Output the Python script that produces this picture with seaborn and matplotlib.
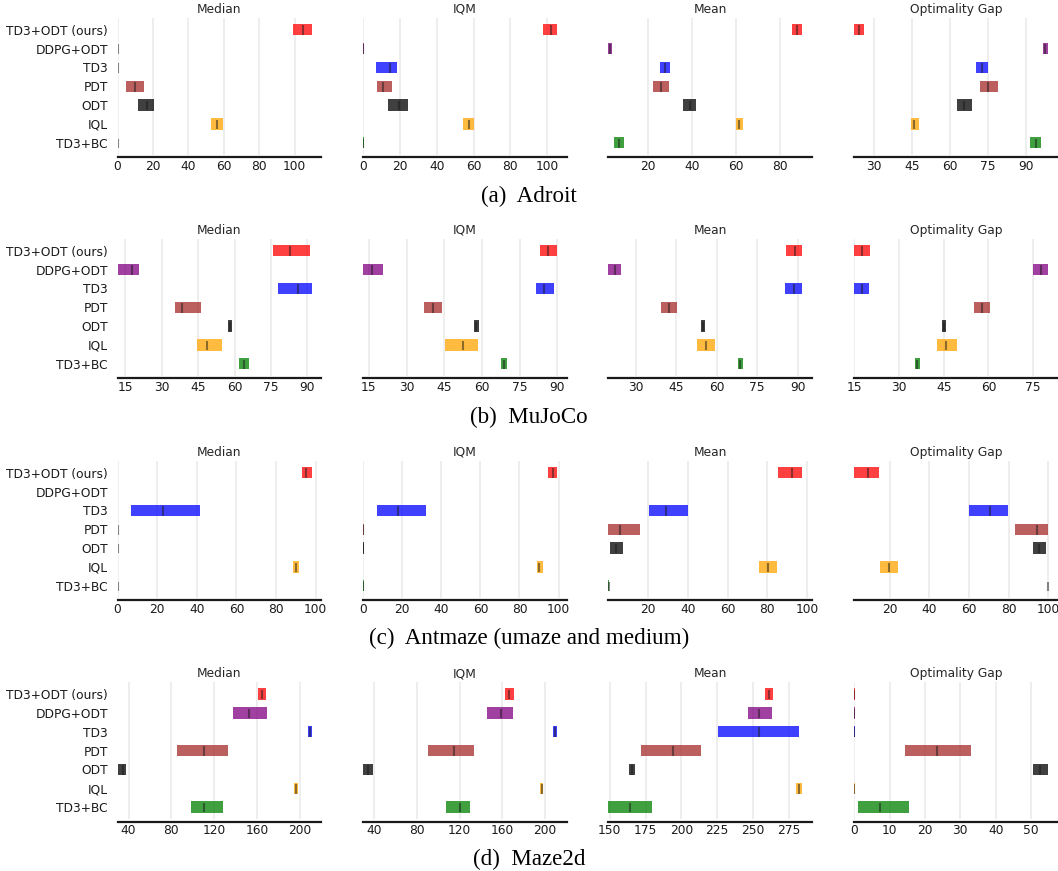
import numpy as np
import matplotlib
matplotlib.use("Agg")
import matplotlib.pyplot as plt
from matplotlib.ticker import FixedLocator
import seaborn as sns

# ---------------- data ----------------
algorithms = ["TD3+ODT (ours)", "DDPG+ODT", "TD3", "PDT", "ODT", "IQL", "TD3+BC"]
alg_colors = ["red", "purple", "blue", "brown", "black", "orange", "green"]
metrics = ["Median", "IQM", "Mean", "Optimality Gap"]
captions = ["(a)  Adroit", "(b)  MuJoCo", "(c)  Antmaze (umaze and medium)", "(d)  Maze2d"]
nan = np.nan

# Adroit
adroit_median_lo = [99.1, 0.0, 0.0, 4.7, 11.4, 53.0, 0.0]
adroit_median_pt = [104.8, 0.0, 0.0, 9.9, 16.7, 56.4, 0.0]
adroit_median_hi = [109.6, 0.4, 0.4, 14.8, 20.5, 59.3, 0.4]
adroit_iqm_lo = [98.0, 0.0, 6.8, 7.3, 13.3, 54.4, 0.0]
adroit_iqm_pt = [102.4, 0.0, 14.6, 10.9, 19.2, 57.5, 0.0]
adroit_iqm_hi = [105.5, 0.4, 18.2, 15.5, 24.6, 60.2, 0.4]
adroit_mean_lo = [85.4, 1.8, 25.4, 22.1, 35.8, 59.8, 4.4]
adroit_mean_pt = [87.9, 2.7, 27.5, 25.7, 38.8, 61.5, 6.8]
adroit_mean_hi = [90.3, 3.5, 30.0, 29.5, 41.7, 63.1, 9.0]
adroit_og_lo = [22.4, 96.6, 70.3, 71.6, 62.9, 44.5, 91.6]
adroit_og_pt = [24.1, 97.5, 72.6, 75.1, 65.5, 45.9, 93.8]
adroit_og_hi = [26.3, 98.6, 75.1, 78.7, 68.6, 47.8, 95.8]

# MuJoCo
mujoco_median_lo = [75.7, 11.8, 77.8, 35.4, 57.3, 44.4, 61.9]
mujoco_median_pt = [83.0, 17.6, 86.0, 38.2, 58.2, 48.7, 64.0]
mujoco_median_hi = [91.1, 20.7, 91.7, 46.0, 59.0, 55.0, 66.0]
mujoco_iqm_lo = [83.2, 12.7, 81.6, 37.1, 56.7, 45.4, 67.8]
mujoco_iqm_pt = [86.3, 16.4, 84.9, 40.5, 57.8, 52.3, 68.7]
mujoco_iqm_hi = [90.0, 20.4, 88.8, 44.1, 58.9, 58.4, 69.8]
mujoco_mean_lo = [85.8, 19.9, 85.4, 39.4, 54.0, 52.8, 67.8]
mujoco_mean_pt = [88.8, 22.3, 88.5, 42.5, 54.9, 56.1, 68.7]
mujoco_mean_hi = [91.7, 24.6, 91.4, 45.3, 55.7, 59.4, 69.6]
mujoco_og_lo = [15.0, 75.1, 15.0, 55.1, 44.3, 42.8, 35.3]
mujoco_og_pt = [17.6, 77.6, 17.6, 57.8, 45.1, 45.9, 36.1]
mujoco_og_hi = [20.4, 80.1, 20.1, 60.7, 45.9, 49.3, 37.0]

# Antmaze
antmaze_median_lo = [93.2, nan, 7.0, 0.0, 0.0, 88.4, 0.0]
antmaze_median_pt = [95.1, nan, 23.0, 0.0, 0.0, 90.0, 0.0]
antmaze_median_hi = [98.0, nan, 41.7, 0.4, 0.4, 91.5, 0.4]
antmaze_iqm_lo = [94.7, nan, 6.9, 0.0, 0.0, 88.9, 0.0]
antmaze_iqm_pt = [97.1, nan, 17.9, 0.0, 0.0, 89.8, 0.0]
antmaze_iqm_hi = [99.3, nan, 32.4, 0.4, 0.4, 92.0, 0.4]
antmaze_mean_lo = [85.3, nan, 20.3, 0.0, 0.8, 75.6, 0.0]
antmaze_mean_pt = [92.5, nan, 29.1, 5.8, 3.9, 80.3, 0.1]
antmaze_mean_hi = [97.6, nan, 39.9, 15.9, 7.3, 84.8, 0.4]
antmaze_og_lo = [2.1, nan, 60.0, 83.4, 92.2, 15.1, 99.6]
antmaze_og_pt = [9.0, nan, 70.5, 94.1, 95.3, 19.5, 99.9]
antmaze_og_hi = [14.6, nan, 79.8, 100.0, 98.6, 24.2, 100.0]

# Maze2d
maze2d_median_lo = [161.0, 137.8, 207.4, 85.1, 29.7, 194.5, 98.0]
maze2d_median_pt = [164.5, 153.0, 209.3, 110.3, 34.4, 196.1, 110.3]
maze2d_median_hi = [168.5, 169.5, 211.1, 132.5, 37.8, 198.3, 127.8]
maze2d_iqm_lo = [162.1, 145.9, 207.5, 90.2, 30.0, 194.7, 107.6]
maze2d_iqm_pt = [166.5, 158.7, 209.3, 114.8, 34.7, 196.6, 120.4]
maze2d_iqm_hi = [170.5, 169.6, 211.2, 133.5, 38.8, 198.4, 129.7]
maze2d_mean_lo = [257.9, 246.3, 225.2, 172.0, 163.6, 280.1, 149.1]
maze2d_mean_pt = [260.7, 254.4, 254.0, 194.2, 165.7, 282.2, 164.5]
maze2d_mean_hi = [263.6, 263.1, 282.2, 213.6, 167.8, 284.3, 179.4]
maze2d_og_lo = [0.0, 0.0, 0.0, 14.4, 50.7, 0.0, 1.1]
maze2d_og_pt = [0.0, 0.0, 0.0, 23.4, 52.6, 0.0, 7.4]
maze2d_og_hi = [0.3, 0.3, 0.3, 33.0, 54.9, 0.3, 15.5]

# tick labels
adroit_ticks = [[0, 20, 40, 60, 80, 100], [0, 20, 40, 60, 80, 100], [20, 40, 60, 80], [30, 45, 60, 75, 90]]
mujoco_ticks = [[15, 30, 45, 60, 75, 90], [15, 30, 45, 60, 75, 90], [30, 45, 60, 75, 90], [15, 30, 45, 60, 75]]
antmaze_ticks = [[0, 20, 40, 60, 80, 100], [0, 20, 40, 60, 80, 100], [20, 40, 60, 80, 100], [20, 40, 60, 80, 100]]
maze2d_ticks = [[40, 80, 120, 160, 200], [40, 80, 120, 160, 200], [150, 175, 200, 225, 250, 275], [0, 10, 20, 30, 40, 50]]

panels = [
    [(adroit_median_lo, adroit_median_pt, adroit_median_hi),
     (adroit_iqm_lo, adroit_iqm_pt, adroit_iqm_hi),
     (adroit_mean_lo, adroit_mean_pt, adroit_mean_hi),
     (adroit_og_lo, adroit_og_pt, adroit_og_hi)],
    [(mujoco_median_lo, mujoco_median_pt, mujoco_median_hi),
     (mujoco_iqm_lo, mujoco_iqm_pt, mujoco_iqm_hi),
     (mujoco_mean_lo, mujoco_mean_pt, mujoco_mean_hi),
     (mujoco_og_lo, mujoco_og_pt, mujoco_og_hi)],
    [(antmaze_median_lo, antmaze_median_pt, antmaze_median_hi),
     (antmaze_iqm_lo, antmaze_iqm_pt, antmaze_iqm_hi),
     (antmaze_mean_lo, antmaze_mean_pt, antmaze_mean_hi),
     (antmaze_og_lo, antmaze_og_pt, antmaze_og_hi)],
    [(maze2d_median_lo, maze2d_median_pt, maze2d_median_hi),
     (maze2d_iqm_lo, maze2d_iqm_pt, maze2d_iqm_hi),
     (maze2d_mean_lo, maze2d_mean_pt, maze2d_mean_hi),
     (maze2d_og_lo, maze2d_og_pt, maze2d_og_hi)],
]
row_ticks = [adroit_ticks, mujoco_ticks, antmaze_ticks, maze2d_ticks]

# ---------------- style ----------------
sns.set_theme(style="white")
plt.rcParams["font.family"] = ["DejaVu Sans"]

W, H = 1058, 871
DPI = 100
fig = plt.figure(figsize=(W / DPI, H / DPI), dpi=DPI)

col_left = [117.6, 363.2, 608.4, 854.3]
ax_w = 203.7
row_top_bar = [29.7, 250.7, 472.7, 694.0]
unit = 18.85
ylo, yhi = -0.63, 6.63
h = 0.6
fs = 8.8

n = len(algorithms)
for r in range(4):
    top_px = row_top_bar[r] - (yhi - (n - 1)) * unit
    height_px = (yhi - ylo) * unit
    for c in range(4):
        ax = fig.add_axes([col_left[c] / W, 1 - (top_px + height_px) / H,
                           ax_w / W, height_px / H])
        lo, pt, hi = panels[r][c]
        for i, alg in enumerate(algorithms):
            if np.isnan(lo[i]):
                continue
            y = n - 1 - i
            ax.barh(y=y, width=hi[i] - lo[i], height=h, left=lo[i],
                    color=alg_colors[i], alpha=0.75, linewidth=0)
            ax.vlines(x=pt[i], ymin=y - 7.5 * h / 16, ymax=y + 6 * h / 16,
                      color="k", alpha=0.5, linewidth=1.5)
        ax.set_ylim(ylo, yhi)
        ax.xaxis.set_major_locator(FixedLocator(row_ticks[r][c]))
        ax.set_yticks(list(range(n)))
        if c == 0:
            ax.set_yticklabels(algorithms[::-1], fontsize=fs, color="#1a1a1a")
        else:
            ax.set_yticks([])
        ax.set_title(metrics[c], fontsize=fs, pad=3.5, color="#262626")
        ax.spines["right"].set_visible(False)
        ax.spines["top"].set_visible(False)
        ax.spines["left"].set_visible(False)
        ax.spines["bottom"].set_linewidth(1.6)
        ax.spines["bottom"].set_color("#1a1a1a")
        ax.spines["bottom"].set_position(("outward", 2))
        ax.tick_params(axis="x", length=0, labelsize=fs, pad=1.6, colors="#1a1a1a")
        ax.tick_params(axis="y", length=0, pad=6.9)
        ax.grid(True, axis="x", alpha=0.25, color="#b0b0b0", linewidth=1.2)
        ax.grid(False, axis="y")
        ax.set_axisbelow(True)
        ax.set_facecolor("white")
    fig.text(0.5, 1 - (196.0 + r * 221.2) / H, captions[r], ha="center", va="center",
             fontsize=16.6, family=["Liberation Serif", "DejaVu Serif"], color="black")

fig.savefig("out.png", dpi=DPI, facecolor="white")
